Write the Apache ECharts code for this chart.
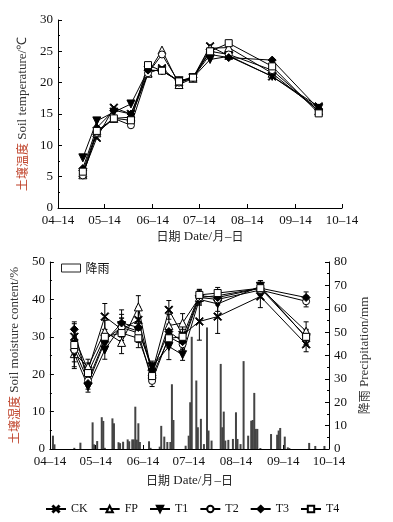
<!DOCTYPE html>
<html><head><meta charset="utf-8">
<script src="https://cdn.jsdelivr.net/npm/echarts@6/dist/echarts.min.js"></script>
<style>html,body{margin:0;padding:0;background:#fff}#c{width:393px;height:522px}</style>
</head><body><div id="c"></div>
<script>
// ---- data ----
var tickLabels = ['04–14','05–14','06–14','07–14','08–14','09–14','10–14'];
var sampleDates = ['04-30','05-09','05-20','05-31','06-11','06-20','07-01','07-10','07-21','08-02','08-30','09-29'];
var seriesNames = ['CK','FP','T1','T2','T3','T4'];

var tempCK = [5.5, 11.2, 16.0, 15.0, 21.5, 22.3, 20.0, 20.8, 25.8, 24.3, 21.0, 16.2];
var tempFP = [5.3, 12.0, 14.3, 14.5, 21.5, 25.2, 19.7, 20.7, 25.5, 25.6, 21.5, 15.5];
var tempT1 = [8.0, 13.9, 15.3, 16.6, 22.0, 21.9, 20.3, 20.8, 23.7, 24.2, 21.0, 15.9];
var tempT2 = [5.2, 12.0, 14.3, 13.2, 21.5, 24.5, 20.0, 20.8, 25.0, 24.5, 22.0, 15.5];
var tempT3 = [6.3, 12.8, 15.6, 15.0, 22.0, 21.9, 20.3, 20.8, 24.5, 24.0, 23.6, 15.8];
var tempT4 = [5.8, 12.3, 14.3, 14.0, 22.8, 21.9, 20.2, 20.8, 25.0, 26.3, 22.6, 15.1];

var moistCK = [30.0, 21.0, 35.4, 32.0, 34.5, 20.5, 37.2, 30.5, 34.1, 35.4, 40.8, 28.0];
var moistFP = [25.5, 22.0, 31.4, 28.5, 38.0, 20.0, 33.0, 33.7, 40.5, 41.0, 43.0, 31.5];
var moistT1 = [25.5, 16.7, 26.5, 33.0, 31.5, 22.0, 27.4, 25.2, 40.0, 38.8, 43.5, 29.8];
var moistT2 = [26.5, 18.3, 29.2, 32.5, 31.0, 18.2, 30.0, 28.0, 40.5, 40.0, 42.5, 39.5];
var moistT3 = [32.0, 17.5, 28.7, 33.7, 32.5, 21.0, 31.4, 28.7, 41.0, 40.5, 43.0, 40.5];
var moistT4 = [27.8, 20.3, 30.0, 31.0, 29.6, 19.5, 29.6, 30.0, 41.2, 41.7, 43.0, 30.0];

var errCK = [3.5, 2.0, 3.5, 3.0, 3.5, 1.5, 2.5, 3.0, 5.0, 4.5, 3.0, 2.0];
var errFP = [4.0, 2.0, 3.0, 3.0, 3.0, 1.5, 3.0, 2.5, 2.0, 1.5, 2.0, 2.5];
var errT1 = [3.5, 1.5, 2.5, 3.0, 2.5, 1.5, 3.5, 1.5, 1.5, 2.0, 1.5, 2.0];
var errT2 = [2.0, 1.5, 2.0, 2.5, 2.5, 1.5, 2.0, 2.0, 1.5, 1.5, 1.5, 1.5];
var errT3 = [2.0, 1.5, 2.0, 3.5, 2.5, 1.5, 2.0, 2.0, 1.5, 1.5, 1.5, 1.5];
var errT4 = [4.5, 1.5, 2.0, 3.0, 2.5, 1.5, 2.5, 2.0, 1.5, 1.5, 1.5, 2.0];

var rainDates = ['04-16','04-17','04-30','05-04','05-12','05-13','05-15','05-18','05-19','05-20','05-25','05-26','05-29','05-30',
  '06-01','06-04','06-05','06-07','06-08','06-09','06-10','06-11','06-12','06-18','06-19','06-25','06-26','06-28','06-30',
  '07-02','07-03','07-04','07-12','07-14','07-15','07-16','07-19','07-20','07-22','07-24','07-26','07-27','07-29',
  '08-04','08-05','08-06','08-07','08-09','08-12','08-14','08-15','08-17','08-19','08-22','08-24','08-25','08-26','08-27','08-28','08-30',
  '09-06','09-10','09-11','09-12','09-15','09-17','09-18','10-01','10-05','10-11'];
var rainValues = [5.7,2.0,0.5,2.7,11.4,2.0,3.4,13.6,12.0,0.5,13.1,11.0,2.9,2.5,
  3.1,4.1,3.3,4.1,4.1,18.1,4.0,11.0,3.0,3.3,0.5,1.0,9.9,5.3,3.0,
  3.0,27.7,12.4,1.4,5.7,20.0,48.0,29.3,9.3,12.9,2.1,52.0,7.9,3.6,
  36.4,9.3,16.0,3.6,3.9,4.3,15.7,4.3,2.1,37.6,5.7,12.1,12.4,24.0,8.6,8.6,0.4,
  6.4,6.1,7.9,9.0,5.3,0.7,0.4,2.6,1.3,1.3];

// ---- helpers ----
function dayOf(s){
  var p = s.replace('–','-').split('-');
  return (Date.UTC(2019, +p[0]-1, +p[1]) - Date.UTC(2019, 3, 14)) / 86400000;
}
var tickDays = tickLabels.map(dayOf);
var sampleDays = sampleDates.map(dayOf);
function pairs(vals){ return vals.map(function(v,i){ return [sampleDays[i], v]; }); }
function errTriples(vals, errs){ return vals.map(function(v,i){ return [sampleDays[i], v-errs[i], v+errs[i]]; }); }

var SERIF = 'Liberation Serif';
var CJK = 'Noto Sans CJK SC';
var X_PATH = 'path://M0,1L1,0L5,4L9,0L10,1L6,5L10,9L9,10L5,6L1,10L0,9L4,5Z';
var symbols = {
  CK: {symbol: X_PATH, fill: '#000', size: 8},
  FP: {symbol: 'triangle', fill: '#fff', size: 8},
  T1: {symbol: 'path://M0,0L10,0L5,9Z', fill: '#000', size: 8},
  T2: {symbol: 'circle', fill: '#fff', size: 7},
  T3: {symbol: 'diamond', fill: '#000', size: 8},
  T4: {symbol: 'rect', fill: '#fff', size: 7}
};
var tempData = {CK: tempCK, FP: tempFP, T1: tempT1, T2: tempT2, T3: tempT3, T4: tempT4};
var moistData = {CK: moistCK, FP: moistFP, T1: moistT1, T2: moistT2, T3: moistT3, T4: moistT4};
var errData = {CK: errCK, FP: errFP, T1: errT1, T2: errT2, T3: errT3, T4: errT4};

function lineSeries(name, vals, gi, yi){
  var s = symbols[name];
  return {
    name: name, type: 'line', xAxisIndex: gi, yAxisIndex: yi,
    data: pairs(vals), symbol: s.symbol, symbolSize: s.size,
    lineStyle: {color: '#000', width: 1},
    itemStyle: {color: s.fill, borderColor: '#000', borderWidth: 1},
    z: 3, animation: false
  };
}
function errSeries(name){
  return {
    name: name + '_err', type: 'custom', xAxisIndex: 1, yAxisIndex: 1,
    data: errTriples(moistData[name], errData[name]),
    encode: {x: 0, y: [1, 2]}, z: 2, animation: false, silent: true,
    renderItem: function(params, api){
      var x = api.value(0);
      var a = api.coord([x, api.value(2)]);
      var b = api.coord([x, api.value(1)]);
      var w = 2.5;
      var st = {stroke: '#000', lineWidth: 1};
      return {type: 'group', children: [
        {type: 'line', shape: {x1: a[0], y1: a[1], x2: b[0], y2: b[1]}, style: st},
        {type: 'line', shape: {x1: a[0]-w, y1: a[1], x2: a[0]+w, y2: a[1]}, style: st},
        {type: 'line', shape: {x1: b[0]-w, y1: b[1], x2: b[0]+w, y2: b[1]}, style: st}
      ]};
    }
  };
}

function xAxis(gi, gap){
  return {
    type: 'value', gridIndex: gi, min: tickDays[0], max: tickDays[tickDays.length-1],
    splitLine: {show: false},
    axisLine: {show: true, lineStyle: {color: '#000', width: 1}},
    axisTick: {show: true, inside: true, length: 4, customValues: tickDays, lineStyle: {color: '#000'}},
    axisLabel: {customValues: tickDays, color: '#111', fontFamily: SERIF, fontSize: 13, margin: 6,
      formatter: function(v){ var i = tickDays.indexOf(v); return i >= 0 ? tickLabels[i] : ''; }},
    name: '{c|日期} {e|Date/月}{e|–}{c|日}', nameLocation: 'middle', nameGap: gap,
    nameTextStyle: {rich: {c: {fontFamily: CJK, fontSize: 12, color: '#222'}, e: {fontFamily: SERIF, fontSize: 13, color: '#222'}}}
  };
}
function yAxis(gi, min, max, interval, position, nameRich, gap){
  return {
    type: 'value', gridIndex: gi, min: min, max: max, interval: interval, position: position,
    splitLine: {show: false},
    axisLine: {show: true, lineStyle: {color: '#000', width: 1}},
    axisTick: {show: true, inside: true, length: 4, lineStyle: {color: '#000'}},
    minorTick: {show: true, splitNumber: 2, length: 2, lineStyle: {color: '#000'}},
    axisLabel: {color: '#111', fontFamily: SERIF, fontSize: 13, margin: 5},
    name: nameRich, nameLocation: 'middle', nameRotate: 90, nameGap: gap,
    nameTextStyle: {rich: {
      r: {fontFamily: CJK, fontSize: 12, color: '#c0442c'},
      k: {fontFamily: CJK, fontSize: 12, color: '#333'},
      g: {fontFamily: SERIF, fontSize: 13, color: '#333'}
    }}
  };
}

var series = [];
seriesNames.forEach(function(n){ series.push(lineSeries(n, tempData[n], 0, 0)); });
seriesNames.forEach(function(n){ series.push(errSeries(n)); });
seriesNames.forEach(function(n){ series.push(lineSeries(n, moistData[n], 1, 1)); });
series.push({
  name: '降雨', type: 'bar', xAxisIndex: 1, yAxisIndex: 2,
  data: rainDates.map(function(d, i){ return [dayOf(d), rainValues[i]]; }),
  barWidth: 2, itemStyle: {color: '#444'}, z: 1, animation: false
});

var chart = echarts.init(document.getElementById('c'), null, {renderer: 'canvas'});
chart.setOption({
  animation: false,
  backgroundColor: '#fff',
  grid: [
    {left: 58, right: 51, top: 20, bottom: 314},
    {left: 48, right: 64, top: 262, bottom: 73}
  ],
  xAxis: [xAxis(0, 22), xAxis(1, 25)],
  yAxis: [
    yAxis(0, 0, 30, 5, 'left', '{r|土壤温度} {g|Soil temperature/℃}', 25),
    yAxis(1, 0, 50, 10, 'left', '{r|土壤湿度} {g|Soil moisture content/%}', 27),
    yAxis(1, 0, 80, 10, 'right', '{k|降雨} {g|Precipitation/mm}', 29)
  ],
  legend: [
    {
      data: seriesNames, left: 40, top: 498, itemWidth: 20, itemHeight: 8, itemGap: 11,
      textStyle: {fontFamily: SERIF, fontSize: 12, color: '#111'}, selectedMode: false
    },
    {
      data: [{name: '降雨', icon: 'rect', itemStyle: {color: '#fff', borderColor: '#222', borderWidth: 1}}],
      left: 56, top: 257, itemWidth: 19, itemHeight: 8, itemGap: 8,
      textStyle: {fontFamily: CJK, fontSize: 12, color: '#111'}, selectedMode: false
    }
  ],
  series: series
});
</script>
</body></html>
